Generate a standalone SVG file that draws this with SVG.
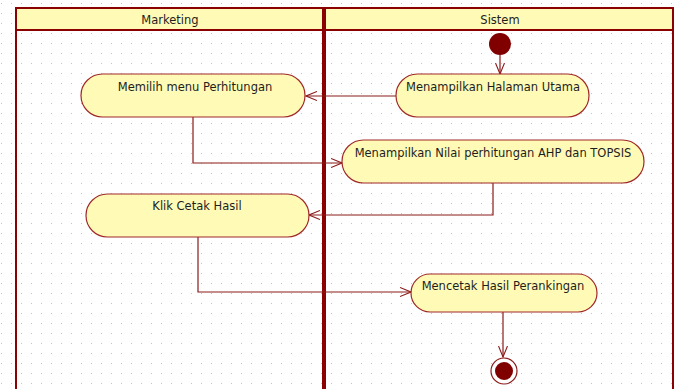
<svg xmlns="http://www.w3.org/2000/svg" width="678" height="389" viewBox="0 0 678 389">
<style>
.node{fill:#fffbb7;stroke:#a02828;stroke-width:1.2}
.t{font-family:"DejaVu Sans",sans-serif;font-size:11.5px;fill:#1e1e1e;text-anchor:middle}
.c{fill:none;stroke:#8b1a1a;stroke-width:1.2}
</style>
<defs>
<pattern id="grid" width="10" height="10" patternUnits="userSpaceOnUse">
<rect x="1" y="3" width="1" height="1" fill="#c4c4c4"/>
</pattern>
<marker id="arr" markerWidth="12" markerHeight="10" refX="11" refY="5" orient="auto" markerUnits="userSpaceOnUse">
<path d="M0,0.5 L11,5 L0,9.5" fill="none" stroke="#8b1a1a" stroke-width="1.1"/>
</marker>
</defs>
<rect width="678" height="389" fill="#ffffff"/>
<rect width="678" height="389" fill="url(#grid)"/>
<g id="lanes">
<rect x="15" y="8" width="658" height="22" fill="#fffbb7"/>
<line x1="15" y1="8" x2="673" y2="8" stroke="#8b0000" stroke-width="2"/>
<line x1="15" y1="30" x2="673" y2="30" stroke="#8b0000" stroke-width="2"/>
<line x1="16" y1="7" x2="16" y2="389" stroke="#8b0000" stroke-width="2"/>
<line x1="324" y1="7" x2="324" y2="389" stroke="#8b0000" stroke-width="4"/>
<line x1="673" y1="7" x2="673" y2="389" stroke="#8b0000" stroke-width="2"/>
<text class="t" x="170" y="24">Marketing</text>
<text class="t" x="500" y="24">Sistem</text>
</g>
<g id="connectors">
<path class="c" d="M500,55 L500,74" marker-end="url(#arr)"/>
<path class="c" d="M396,96 L306,96" marker-end="url(#arr)"/>
<path class="c" d="M193,117 L193,163 L342,163" marker-end="url(#arr)"/>
<path class="c" d="M493,183 L493,215 L309,215" marker-end="url(#arr)"/>
<path class="c" d="M198,237 L198,292 L411,292" marker-end="url(#arr)"/>
<path class="c" d="M503,312 L503,357" marker-end="url(#arr)"/>
</g>
<g id="start">
<circle cx="500" cy="44" r="11" fill="#800000"/>
</g>
<g id="n1">
<rect class="node" x="81" y="74" width="224" height="43" rx="21.5"/>
<text class="t" x="195" y="91">Memilih menu Perhitungan</text>
</g>
<g id="n2">
<rect class="node" x="396" y="74" width="193" height="43" rx="21.5"/>
<text class="t" x="493" y="91">Menampilkan Halaman Utama</text>
</g>
<g id="n3">
<rect class="node" x="342" y="140" width="302" height="43" rx="21.5"/>
<text class="t" x="493" y="157">Menampilkan Nilai perhitungan AHP dan TOPSIS</text>
</g>
<g id="n4">
<rect class="node" x="86" y="194" width="223" height="43" rx="21.5"/>
<text class="t" x="197" y="210">Klik Cetak Hasil</text>
</g>
<g id="n5">
<rect class="node" x="411" y="274" width="186" height="38" rx="19"/>
<text class="t" x="503" y="290">Mencetak Hasil Perankingan</text>
</g>
<g id="end">
<circle cx="504" cy="371" r="13" fill="#ffffff" stroke="#8b1a1a" stroke-width="1.2"/>
<circle cx="504" cy="371" r="9" fill="#800000"/>
</g>
</svg>
